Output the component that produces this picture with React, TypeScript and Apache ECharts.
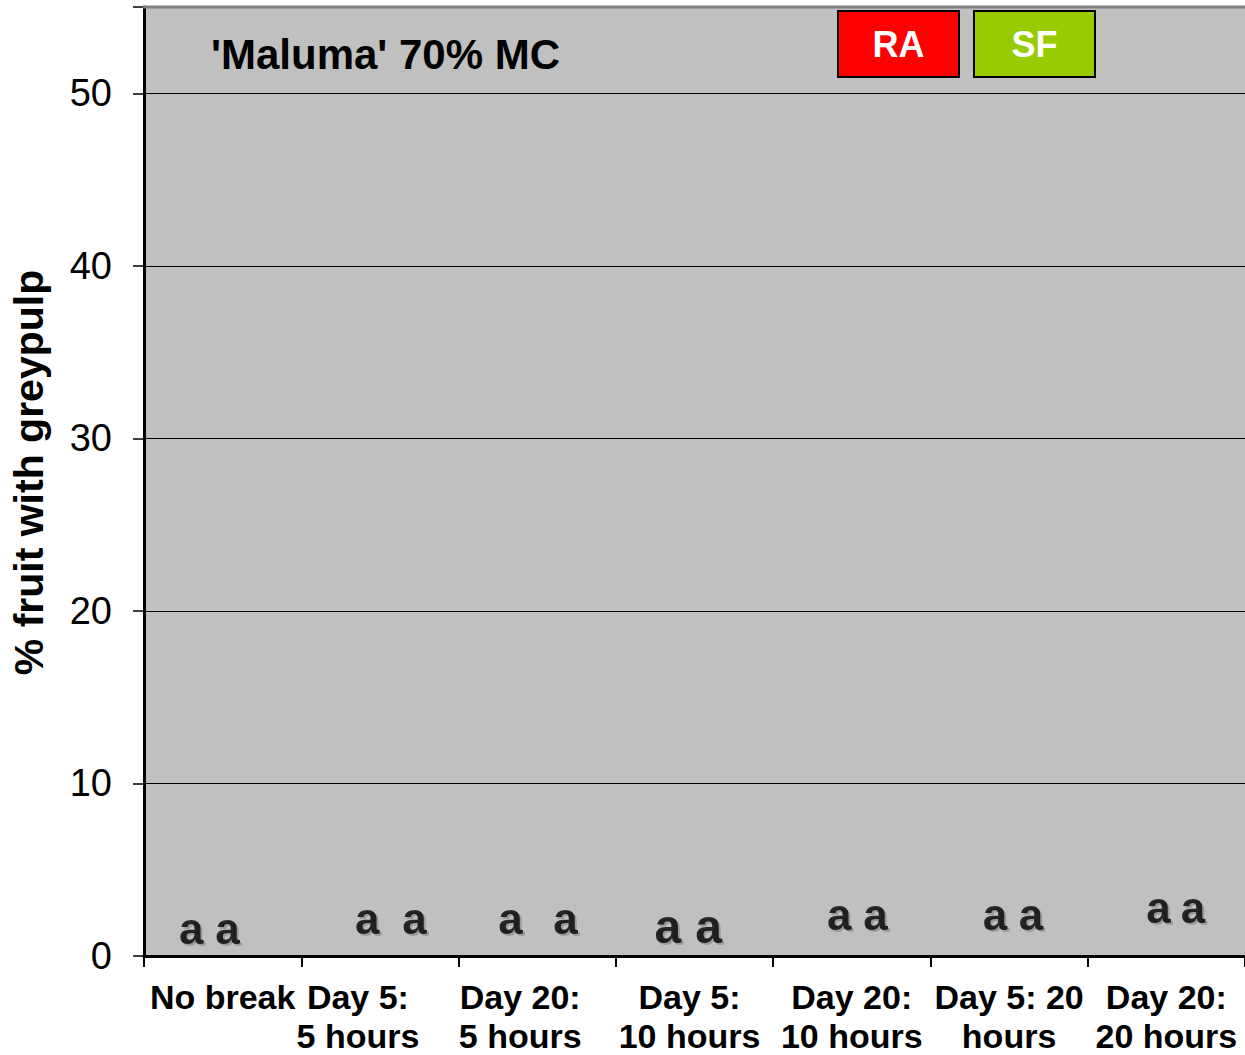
import React, { useEffect, useRef } from "react";
import * as echarts from "echarts";

const categories = [
  "No break",
  "Day 5:\n5 hours",
  "Day 20:\n5 hours",
  "Day 5:\n10 hours",
  "Day 20:\n10 hours",
  "Day 5: 20\nhours",
  "Day 20:\n20 hours",
];
const seriesNames = ["RA", "SF"];
const raValues = [0, 0, 0, 0, 0, 0, 0];
const sfValues = [0, 0, 0, 0, 0, 0, 0];
// significance letters: position along the category scale and height in % units
const letterText = ["a", "a", "a", "a", "a", "a", "a", "a", "a", "a", "a", "a", "a", "a"];
const letterX = [-0.2, 0.03, 0.92, 1.22, 1.83, 2.18, 2.83, 3.09, 3.92, 4.15, 4.91, 5.14, 5.95, 6.17];
const letterY = [1.6, 1.6, 2.2, 2.2, 2.2, 2.2, 1.7, 1.7, 2.4, 2.4, 2.4, 2.4, 2.8, 2.8];
const letterBig = [false, false, false, false, false, false, true, true, false, false, false, false, false, false];
const yTicks = [0, 10, 20, 30, 40, 50];
const labelShift = [0, 44, 34, 10, 0, 0, 0];

const FONT = "'Liberation Sans', Arial, sans-serif";

export default function App() {
  const ref = useRef<HTMLDivElement>(null);
  useEffect(() => {
    document.body.style.margin = "0";
    const chart = echarts.init(ref.current!, null, { renderer: "svg" });
    const boxText = (x: number, label: string) => ({
      type: "text",
      x: x + 60.5,
      y: 44,
      style: {
        text: label,
        fill: "#fff",
        fontFamily: FONT,
        fontSize: 36,
        fontWeight: "bold",
        align: "center",
        verticalAlign: "middle",
      },
      z: 11,
    });
    const option: any = {
      animation: false,
      backgroundColor: "#ffffff",
      title: {
        text: "'Maluma' 70% MC",
        left: 206,
        top: 28,
        textStyle: { fontFamily: FONT, fontSize: 42, fontWeight: "bold", color: "#000" },
      },
      grid: {
        left: 143,
        right: 0,
        top: 7,
        bottom: 99,
        show: true,
        backgroundColor: "#c0c0c0",
        borderWidth: 0,
      },
      xAxis: [
        {
          type: "category",
          data: categories.map((c, i) => ({
            value: c,
            textStyle: { padding: [0, labelShift[i], 0, 0] },
          })),
          boundaryGap: true,
          axisLine: { show: true, lineStyle: { color: "#000", width: 3 } },
          axisTick: { show: true, interval: 0, length: 11, lineStyle: { color: "#000", width: 2 } },
          axisLabel: {
            interval: 0,
            margin: 21,
            fontFamily: FONT,
            fontSize: 34,
            fontWeight: "bold",
            color: "#000",
            lineHeight: 39,
          },
          splitLine: { show: false },
        },
        {
          type: "value",
          min: -0.5,
          max: 6.5,
          show: false,
        },
      ],
      yAxis: {
        type: "value",
        min: 0,
        max: 55,
        interval: 10,
        axisLine: { show: true, onZero: false, lineStyle: { color: "#000", width: 3 } },
        axisTick: { show: true, length: 11, lineStyle: { color: "#000", width: 1.5 } },
        axisLabel: {
          margin: 32,
          fontFamily: FONT,
          fontSize: 38,
          color: "#000",
          formatter: (v: number) => (yTicks.indexOf(v) >= 0 ? String(v) : ""),
        },
        splitLine: { show: true, lineStyle: { color: "#000", width: 1.2 } },
        name: "% fruit with greypulp",
        nameLocation: "middle",
        nameGap: 95,
        nameTextStyle: {
          fontFamily: FONT,
          fontSize: 41,
          fontWeight: "bold",
          color: "#000",
          padding: [0, 0, 0, 18],
        },
      },
      series: [
        {
          name: seriesNames[0],
          type: "bar",
          data: raValues,
          itemStyle: { color: "#ff0000" },
          barGap: "0%",
        },
        {
          name: seriesNames[1],
          type: "bar",
          data: sfValues,
          itemStyle: { color: "#99cc00" },
        },
        {
          type: "scatter",
          xAxisIndex: 1,
          yAxisIndex: 0,
          symbolSize: 1,
          itemStyle: { color: "rgba(0,0,0,0)" },
          data: letterX.map((x, i) => ({
            value: [x, letterY[i]],
            label: {
              show: true,
              position: "inside",
              formatter: letterText[i],
              fontFamily: FONT,
              fontWeight: "bold",
              fontSize: letterBig[i] ? 48 : 44,
              color: "#000",
              textShadowColor: "rgba(0,0,0,0.25)",
              textShadowOffsetX: 2,
              textShadowOffsetY: 2,
              textShadowBlur: 1,
            },
          })),
          z: 5,
        },
      ],
      graphic: [
        {
          type: "line",
          shape: { x1: 143, y1: 7, x2: 1245, y2: 7 },
          style: { stroke: "#808080", lineWidth: 3 },
          z: 10,
        },
        {
          type: "rect",
          shape: { x: 838, y: 11, width: 121, height: 66 },
          style: { fill: "#ff0000", stroke: "#000", lineWidth: 2 },
          z: 10,
        },
        {
          type: "rect",
          shape: { x: 974, y: 11, width: 121, height: 66 },
          style: { fill: "#99cc00", stroke: "#000", lineWidth: 2 },
          z: 10,
        },
        boxText(838, seriesNames[0]),
        boxText(974, seriesNames[1]),
      ],
    };
    chart.setOption(option);
    return () => chart.dispose();
  }, []);
  return <div ref={ref} style={{ width: 1245, height: 1055 }} />;
}
